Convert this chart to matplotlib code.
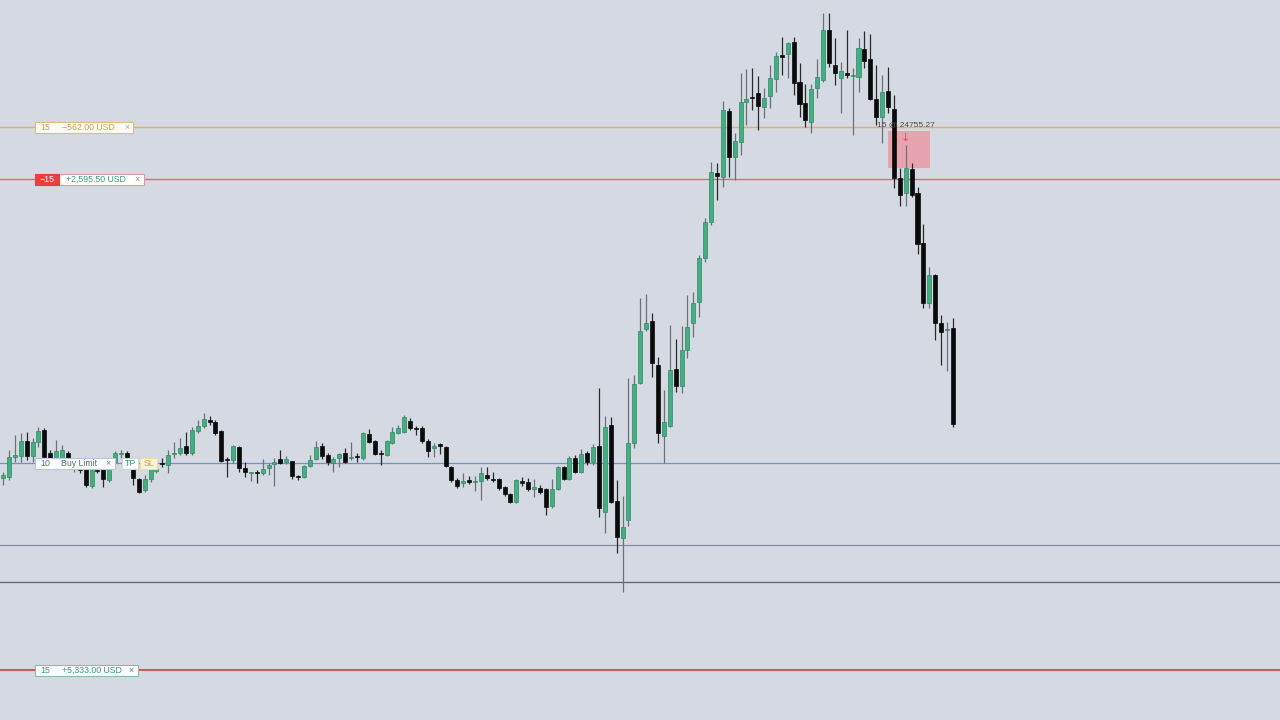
import numpy as np
import matplotlib.pyplot as plt
from matplotlib.patches import Rectangle

# OHLC (index = bar number)
open_ = [24402, 24403, 24423, 24424, 24439, 24424, 24438, 24450, 24427, 24421,
         24422, 24427, 24411, 24414, 24412, 24394, 24410, 24412, 24400, 24418,
         24426, 24427, 24412, 24401, 24390, 24401, 24409, 24417, 24415, 24426,
         24427, 24434, 24427, 24449, 24454, 24460, 24458, 24449, 24421, 24420,
         24433, 24412, 24407, 24408, 24407, 24412, 24416, 24421, 24418, 24419,
         24404, 24403, 24414, 24421, 24434, 24425, 24417, 24422, 24427, 24422,
         24424, 24422, 24446, 24439, 24427, 24425, 24437, 24447, 24448, 24459,
         24452, 24452, 24439, 24432, 24436, 24433, 24413, 24400, 24397, 24400,
         24398, 24399, 24405, 24401, 24401, 24393, 24386, 24378, 24399, 24398,
         24391, 24392, 24391, 24374, 24391, 24413, 24401, 24422, 24408, 24427,
         24418, 24434, 24368, 24455, 24379, 24342, 24360, 24437, 24497, 24551,
         24559, 24515, 24444, 24454, 24511, 24494, 24530, 24557, 24578, 24622,
         24658, 24707, 24703, 24769, 24723, 24738, 24778, 24783, 24787, 24773,
         24784, 24801, 24825, 24826, 24838, 24798, 24777, 24758, 24792, 24800,
         24850, 24815, 24802, 24807, 24804, 24803, 24831, 24821, 24781, 24763,
         24789, 24771, 24702, 24687, 24711, 24687, 24637, 24577, 24605, 24557,
         24550, 24552]
high = [24408, 24430, 24445, 24447, 24448, 24442, 24453, 24452, 24430, 24440,
        24435, 24429, 24417, 24418, 24415, 24413, 24412, 24415, 24417, 24429,
        24430, 24429, 24413, 24402, 24405, 24415, 24412, 24422, 24430, 24438,
        24442, 24448, 24453, 24460, 24467, 24464, 24460, 24450, 24423, 24435,
        24434, 24418, 24408, 24410, 24421, 24417, 24422, 24430, 24424, 24419,
        24405, 24415, 24425, 24439, 24437, 24427, 24423, 24427, 24432, 24438,
        24427, 24448, 24451, 24440, 24430, 24440, 24453, 24455, 24465, 24462,
        24454, 24454, 24441, 24437, 24437, 24434, 24414, 24402, 24407, 24404,
        24404, 24413, 24413, 24408, 24402, 24394, 24387, 24401, 24403, 24402,
        24401, 24395, 24392, 24401, 24414, 24414, 24424, 24425, 24431, 24429,
        24436, 24492, 24464, 24463, 24400, 24384, 24502, 24505, 24582, 24586,
        24567, 24523, 24490, 24555, 24541, 24554, 24585, 24588, 24625, 24662,
        24718, 24717, 24779, 24772, 24747, 24807, 24811, 24812, 24804, 24792,
        24815, 24828, 24843, 24838, 24843, 24817, 24796, 24796, 24821, 24867,
        24867, 24842, 24818, 24850, 24812, 24842, 24849, 24846, 24815, 24805,
        24813, 24785, 24712, 24735, 24717, 24693, 24656, 24613, 24606, 24565,
        24558, 24562]
low = [24395, 24400, 24418, 24418, 24420, 24418, 24433, 24422, 24418, 24419,
       24420, 24417, 24408, 24407, 24393, 24392, 24407, 24393, 24398, 24417,
       24422, 24420, 24395, 24387, 24388, 24398, 24407, 24413, 24407, 24422,
       24425, 24425, 24425, 24447, 24452, 24455, 24445, 24418, 24403, 24417,
       24408, 24403, 24399, 24397, 24405, 24405, 24394, 24416, 24416, 24401,
       24400, 24402, 24413, 24420, 24421, 24415, 24408, 24413, 24417, 24420,
       24418, 24420, 24437, 24425, 24415, 24424, 24436, 24446, 24447, 24450,
       24445, 24437, 24423, 24423, 24426, 24413, 24398, 24392, 24393, 24396,
       24389, 24380, 24400, 24398, 24390, 24384, 24377, 24377, 24394, 24389,
       24383, 24386, 24365, 24372, 24390, 24400, 24400, 24407, 24407, 24415,
       24415, 24363, 24347, 24377, 24327, 24288, 24354, 24432, 24496, 24549,
       24503, 24437, 24417, 24453, 24488, 24487, 24522, 24543, 24563, 24618,
       24655, 24680, 24693, 24703, 24700, 24725, 24755, 24770, 24750, 24762,
       24772, 24788, 24805, 24802, 24785, 24763, 24753, 24747, 24782, 24798,
       24813, 24795, 24767, 24802, 24745, 24788, 24812, 24780, 24755, 24737,
       24767, 24692, 24674, 24674, 24683, 24626, 24572, 24572, 24540, 24515,
       24509, 24453]
close = [24405, 24423, 24425, 24439, 24424, 24438, 24449, 24423, 24420, 24429,
         24430, 24420, 24414, 24410, 24395, 24410, 24409, 24401, 24413, 24427,
         24427, 24422, 24402, 24388, 24401, 24412, 24411, 24416, 24425, 24427,
         24432, 24427, 24450, 24454, 24461, 24458, 24447, 24419, 24420, 24434,
         24412, 24408, 24408, 24407, 24411, 24415, 24418, 24417, 24421, 24404,
         24403, 24414, 24420, 24433, 24424, 24418, 24421, 24426, 24418, 24423,
         24423, 24447, 24438, 24426, 24426, 24439, 24448, 24452, 24463, 24452,
         24451, 24439, 24429, 24434, 24434, 24414, 24400, 24394, 24399, 24398,
         24399, 24407, 24402, 24400, 24392, 24386, 24378, 24400, 24397, 24391,
         24393, 24388, 24373, 24391, 24413, 24401, 24422, 24408, 24426, 24418,
         24433, 24372, 24453, 24378, 24343, 24353, 24437, 24496, 24549, 24557,
         24517, 24447, 24458, 24510, 24494, 24530, 24553, 24577, 24622, 24658,
         24708, 24704, 24770, 24723, 24739, 24778, 24781, 24782, 24774, 24782,
         24802, 24824, 24823, 24837, 24797, 24776, 24760, 24791, 24803, 24850,
         24817, 24807, 24809, 24805, 24805, 24832, 24819, 24781, 24763, 24788,
         24773, 24702, 24685, 24712, 24685, 24636, 24577, 24605, 24557, 24548,
         24551, 24456]

# horizontal order / position lines
level_prices = [24753, 24701, 24417, 24335, 24298, 24210]
level_colors = ['#e9ad62', '#e06a72', '#6f8fd8', '#8a90a0', '#5c6069', '#c94444']
level_widths = [1.0, 1.0, 0.9, 0.9, 0.9, 1.2]

entry_price = 24755.27
entry_box = (150.0, 157.1, 24712, 24749)  # x0, x1, y0, y1

plt.rcParams['font.family'] = ['Liberation Sans', 'DejaVu Sans']

W, H = 1280, 720
fig = plt.figure(figsize=(12.8, 7.2), dpi=100)
bg = '#d5d9e2'
fig.patch.set_facecolor(bg)
ax = fig.add_axes([0, 0, 1, 1])
ax.set_facecolor(bg)
ax.set_xlim(-0.51, 216.44)
ax.set_ylim(24160, 24880)
ax.axis('off')

for p, c, lw in zip(level_prices, level_colors, level_widths):
    ax.axhline(p, color=c, lw=lw, zorder=1)

x = np.arange(len(open_))
o = np.array(open_, float)
c = np.array(close, float)
up = c >= o
bottom = np.minimum(o, c)
height = np.maximum(np.abs(c - o), 1.3)

ax.add_patch(Rectangle((entry_box[0], entry_box[2]), entry_box[1] - entry_box[0],
                       entry_box[3] - entry_box[2], fc='#e8a4ae', ec='none', zorder=2))

ax.vlines(x, low, high, color=np.where(up, '#6b7079', '#2a2a2a'), lw=0.9, zorder=3)
ax.bar(x[up], height[up], bottom=bottom[up], width=0.68, color='#45ad84',
       edgecolor='#2f8a64', linewidth=0.5, zorder=4)
ax.bar(x[~up], height[~up], bottom=bottom[~up], width=0.68, color='#0a0a0a',
       edgecolor='#0a0a0a', linewidth=0.5, zorder=4)

ax.text(153.0, 24755, f'15 @ {entry_price:.2f}', fontsize=6, color='#4a4a4a',
        ha='center', va='center', zorder=6)
ax.text(153.0, 24742, '↓', fontsize=8, color='#e0506a', ha='center', va='center',
        family='DejaVu Sans', zorder=6)


def box(x0, x1, y, fc, ec):
    fig.add_artist(Rectangle((x0 / W, 1 - (y + 5.5) / H), (x1 - x0) / W, 11 / H,
                             fc=fc, ec=ec, lw=0.8, transform=fig.transFigure, zorder=7))


def txt(x0, y, s, color, ha='left', size=6.3):
    fig.text(x0 / W, 1 - y / H, s, color=color, fontsize=size, ha=ha, va='center', zorder=8)


# -562 label
box(35, 133, 127, '#fdfbf4', '#dcbd84')
txt(40, 127.5, '15', '#c9a445')
txt(62, 127.5, '−562.00 USD', '#c9a445')
txt(126.5, 127.5, '×', '#b0a58a', ha='center')

# +2,595.50 label
box(59, 144, 179, '#ffffff', '#e39a9a')
box(35, 59, 179, '#e8403f', '#e8403f')
txt(47, 179.5, '−15', '#ffffff', ha='center')
txt(66, 179.5, '+2,595.50 USD', '#3f9d80')
txt(137, 179.5, '×', '#8a8f99', ha='center')

# Buy limit + TP / SL
box(35, 115, 463, '#ffffff', '#b8c6e6')
txt(40, 463.5, '10', '#5a6a8a')
txt(61, 463.5, 'Buy Limit', '#5a6a8a')
txt(108, 463.5, '×', '#7a8194', ha='center')
box(122, 138, 463, '#ffffff', '#c9dcd4')
txt(130, 463.5, 'TP', '#3f9d80', ha='center')
box(140, 157, 463, '#fbf2d6', '#eedcad')
txt(148.5, 463.5, 'SL', '#c9a445', ha='center')

# +5,333 label
box(35, 138, 670, '#fbfcfc', '#8fb8ad')
txt(40, 670.5, '15', '#3f9d80')
txt(62, 670.5, '+5,333.00 USD', '#3f9d80')
txt(131, 670.5, '×', '#7a8194', ha='center')

fig.savefig('out.png', dpi=100, facecolor=bg)
